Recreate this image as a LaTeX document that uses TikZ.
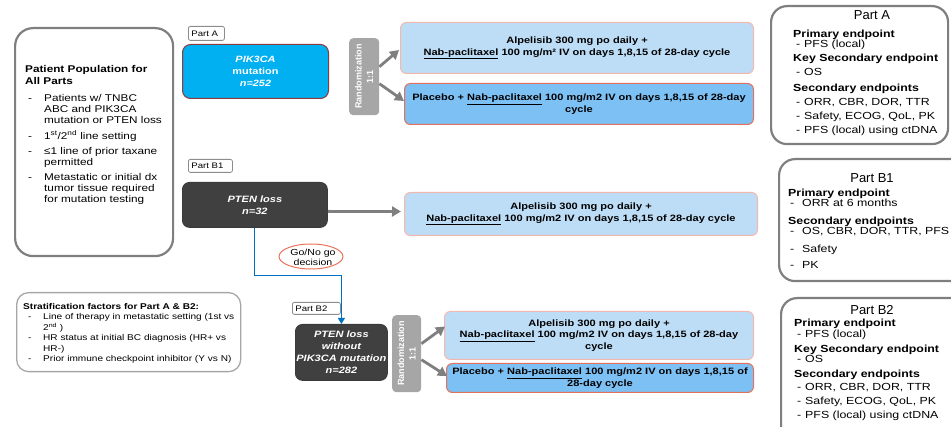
\documentclass[tikz,border=0pt]{standalone}
\usepackage{fontspec}
\setmainfont{Liberation Sans}[FakeStretch=1.2]
\newfontfamily\titlefont{Liberation Sans}
\usetikzlibrary{arrows.meta,calc,shapes.geometric}
\definecolor{bordergray}{HTML}{7F7F7F}
\definecolor{stratgray}{HTML}{A6A6A6}
\definecolor{partgray}{HTML}{8C8C8C}
\definecolor{cyanbox}{HTML}{00B0F0}
\definecolor{cyanborder}{HTML}{8E3B3B}
\definecolor{darkfill}{HTML}{404040}
\definecolor{darkborder}{HTML}{3A3A3A}
\definecolor{randgray}{HTML}{A6A6A6}
\definecolor{arrowgray}{HTML}{7F7F7F}
\definecolor{lightblue}{HTML}{BDDDF6}
\definecolor{lightborder}{HTML}{F2B8AE}
\definecolor{midblue}{HTML}{7DC1F4}
\definecolor{midborder}{HTML}{E2705F}
\definecolor{blueC}{HTML}{0070C0}
\definecolor{ellred}{HTML}{E9735A}
\newcommand\mybul[2]{\makebox[#1][l]{\hspace{#2}-}}
\tikzset{
 bigbox/.style={draw=bordergray, line width=2.2pt, rounded corners=18pt, anchor=north west, inner sep=0pt},
 rbox/.style={bigbox, rounded corners=16pt},
 stratbox/.style={draw=stratgray, line width=1.3pt, rounded corners=12pt, anchor=north west, inner sep=0pt},
 txt/.style={anchor=north west, inner sep=0pt, align=left},
 treat/.style={draw=lightborder, fill=lightblue, line width=1pt, rounded corners=6pt, anchor=north west, inner sep=0pt, align=center, font=\fontsize{9.2}{11.5}\selectfont\bfseries},
 placebo/.style={treat, draw=midborder, fill=midblue},
 darkbox/.style={draw=darkborder, fill=darkfill, line width=0.8pt, rounded corners=7pt, anchor=north west, inner sep=0pt, align=center, text=white, font=\fontsize{9.2}{12}\selectfont\bfseries\itshape},
 cyanstyle/.style={draw=cyanborder, fill=cyanbox, line width=1pt, rounded corners=8pt, anchor=north west, inner sep=0pt, align=center, text=white, font=\fontsize{9.1}{12}\selectfont\bfseries},
 randbox/.style={fill=randgray, rounded corners=4pt, anchor=north west, inner sep=0pt},
 randtxt/.style={rotate=90, align=center, text=white, inner sep=0pt, font=\fontsize{9}{11.5}\selectfont\titlefont\bfseries},
 partlabel/.style={draw=partgray, line width=0.8pt, rounded corners=2pt, anchor=north west, inner xsep=3pt, inner ysep=0pt, align=left, font=\fontsize{8}{9}\selectfont},
 rtitle/.style={inner sep=0pt, font=\fontsize{13}{15}\selectfont\titlefont},
 grayarrow/.style={draw=arrowgray, line width=2.8pt, -{Triangle[length=9pt,width=10pt]}},
 blueline/.style={draw=blueC, line width=1.1pt, -{Triangle[length=6pt,width=7pt]}},
}
\begin{document}
\begin{tikzpicture}[x=1pt,y=-1pt]
\useasboundingbox (0,0) rectangle (951,427);
\clip (0,0) rectangle (951,427);

% ---- Patient population box
\node[bigbox, minimum width=158pt, minimum height=228pt] (pop) at (14,27) {};
\node[txt, font=\fontsize{9.8}{11}\selectfont] (poptxt) at (25,64.8) {%
\begin{tabular}{@{}l@{}l@{}}
\multicolumn{2}{@{}l@{}}{\bfseries Patient Population for}\\[1pt]
\multicolumn{2}{@{}l@{}}{\bfseries All Parts}\\[6pt]
\mybul{19pt}{3pt} & Patients w/ TNBC\\
 & ABC and PIK3CA\\
 & mutation or PTEN loss\\[4pt]
\mybul{19pt}{3pt} & 1\textsuperscript{st}/2\textsuperscript{nd} line setting\\[4pt]
\mybul{19pt}{3pt} & ≤1 line of prior taxane\\
 & permitted\\[4pt]
\mybul{19pt}{3pt} & Metastatic or initial dx\\
 & tumor tissue required\\
 & for mutation testing
\end{tabular}};

% ---- Stratification box
\node[stratbox, minimum width=224pt, minimum height=79pt] (strat) at (16,292) {};
\node[txt, font=\fontsize{8.4}{10.5}\selectfont] (strattxt) at (23,301.6) {%
\begin{tabular}{@{}l@{}l@{}}
\multicolumn{2}{@{}l@{}}{\bfseries Stratification factors for Part A \& B2:}\\
\mybul{20pt}{5pt} & Line of therapy in metastatic setting (1st vs\\
 & 2\textsuperscript{nd} )\\
\mybul{20pt}{5pt} & HR status at initial BC diagnosis (HR+ vs\\
 & HR-)\\
\mybul{20pt}{5pt} & Prior immune checkpoint inhibitor (Y vs N)
\end{tabular}};

% ---- Part A
\node[partlabel, minimum height=14pt, text width=30pt] (lblA) at (188,26) {Part A};
\node[cyanstyle, minimum width=146pt, minimum height=54pt] (pik) at (182,44) {\itshape PIK3CA\\mutation\\\itshape n=252};
\node[randbox, minimum width=30pt, minimum height=77pt] (randA) at (349,38) {};
\node[randtxt] (randAtxt) at (randA.center) {Randomization\\1:1};
\node[treat, minimum width=353pt, minimum height=51pt] (tA1) at (400,22) {Alpelisib 300 mg po daily +\\\underline{Nab-paclitaxel} 100 mg/m² IV on days 1,8,15 of 28-day cycle};
\node[placebo, minimum width=349pt, minimum height=41pt] (tA2) at (404,83) {Placebo + \underline{Nab-paclitaxel} 100 mg/m2 IV on days 1,8,15 of 28-day\\cycle};
\draw[grayarrow] ($(randA.east)+(0,-10)$) -- ($(tA1.west)+(-1,2)$);
\draw[grayarrow] ($(randA.east)+(0,7)$) -- ($(tA2.west)+(0,-3)$);

% ---- Part B1
\node[partlabel, minimum height=13pt, text width=38pt] (lblB1) at (188,159) {Part B1};
\node[darkbox, minimum width=145pt, minimum height=45pt] (b1) at (182,182) {PTEN loss\\n=32};
\node[treat, minimum width=353pt, minimum height=43pt] (tB1) at (404,192) {Alpelisib 300 mg po daily +\\\underline{Nab-paclitaxel} 100 mg/m2 IV on days 1,8,15 of 28-day cycle};
\draw[grayarrow] ($(b1.east)+(0,6.5)$) -- ($(tB1.west)+(-3,-2.5)$);

% ---- Go / No go
\node[ellipse, draw=ellred, line width=1pt, minimum width=64pt, minimum height=25pt, inner sep=0pt] (gonogo) at (311,256.5) {};
\node[inner sep=0pt, align=center, font=\fontsize{8.8}{10.5}\selectfont] (gonogotxt) at ($(gonogo.center)+(2,1)$) {Go/No go\\decision};

% ---- Part B2
\node[partlabel, minimum height=12pt, text width=42pt] (lblB2) at (292,302) {Part B2};
\node[darkbox, minimum width=92pt, minimum height=56pt] (b2) at (295,324) {PTEN loss\\without\\PIK3CA mutation\\n=282};
\draw[blueline] (b1.south) -- ++(0,48) -| (b2.north);
\node[randbox, minimum width=29pt, minimum height=77pt] (randB) at (392,315) {};
\node[randtxt] (randBtxt) at (randB.center) {Randomization\\1:1};
\node[treat, minimum width=309pt, minimum height=48pt] (tB2a) at (444,311) {Alpelisib 300 mg po daily +\\\underline{Nab-paclitaxel} 100 mg/m2 IV on days 1,8,15 of 28-day\\cycle};
\node[placebo, minimum width=307pt, minimum height=29pt] (tB2b) at (446,363) {Placebo + \underline{Nab-paclitaxel} 100 mg/m2 IV on days 1,8,15 of\\28-day cycle};
\draw[grayarrow] ($(randB.east)+(0,-10)$) -- ($(tB2a.west)+(1,-9)$);
\draw[grayarrow] ($(randB.east)+(0,6)$) -- ($(tB2b.west)+(1,-2)$);

% ---- Right: Part A endpoints
\node[rbox, minimum width=177pt, minimum height=138pt] (epA) at (770,5) {};
\node[rtitle] (epAt) at (872,15) {Part A};
\node[txt, font=\fontsize{10.3}{10}\selectfont] (epAtxt) at (793,29.7) {%
\begin{tabular}{@{}l@{}l@{}}
\multicolumn{2}{@{}l@{}}{\bfseries Primary endpoint}\\
\mybul{11pt}{3pt} & PFS (local)\\[3pt]
\multicolumn{2}{@{}l@{}}{\bfseries Key Secondary endpoint}\\[4pt]
\mybul{11pt}{3pt} & OS\\[6pt]
\multicolumn{2}{@{}l@{}}{\bfseries Secondary endpoints}\\[3pt]
\mybul{11pt}{3pt} & ORR, CBR, DOR, TTR\\[4pt]
\mybul{11pt}{3pt} & Safety, ECOG, QoL, PK\\[3pt]
\mybul{11pt}{3pt} & PFS (local) using ctDNA
\end{tabular}};

% ---- Right: Part B1 endpoints
\node[rbox, minimum width=190pt, minimum height=122pt] (epB1) at (778,158) {};
\node[rtitle] (epB1t) at (872,178) {Part B1};
\node[txt, font=\fontsize{10.3}{10}\selectfont] (epB1txt) at (788,188.7) {%
\begin{tabular}{@{}l@{}l@{}}
\multicolumn{2}{@{}l@{}}{\bfseries Primary endpoint}\\
\mybul{14pt}{2pt} & ORR at 6 months\\[7pt]
\multicolumn{2}{@{}l@{}}{\bfseries Secondary endpoints}\\
\mybul{14pt}{2pt} & OS, CBR, DOR, TTR, PFS\\[8pt]
\mybul{14pt}{2pt} & Safety\\[5pt]
\mybul{14pt}{2pt} & PK
\end{tabular}};

% ---- Right: Part B2 endpoints
\node[rbox, minimum width=190pt, minimum height=145pt] (epB2) at (780,297) {};
\node[rtitle] (epB2t) at (872,310) {Part B2};
\node[txt, font=\fontsize{10.3}{10}\selectfont] (epB2txt) at (794,318.7) {%
\begin{tabular}{@{}l@{}l@{}}
\multicolumn{2}{@{}l@{}}{\bfseries Primary endpoint}\\[1pt]
\mybul{11pt}{3pt} & PFS (local)\\[4pt]
\multicolumn{2}{@{}l@{}}{\bfseries Key Secondary endpoint}\\
\mybul{11pt}{3pt} & OS\\[5pt]
\multicolumn{2}{@{}l@{}}{\bfseries Secondary endpoints}\\[2pt]
\mybul{11pt}{3pt} & ORR, CBR, DOR, TTR\\[4pt]
\mybul{11pt}{3pt} & Safety, ECOG, QoL, PK\\[3pt]
\mybul{11pt}{3pt} & PFS (local) using ctDNA
\end{tabular}};
\end{tikzpicture}
\end{document}
